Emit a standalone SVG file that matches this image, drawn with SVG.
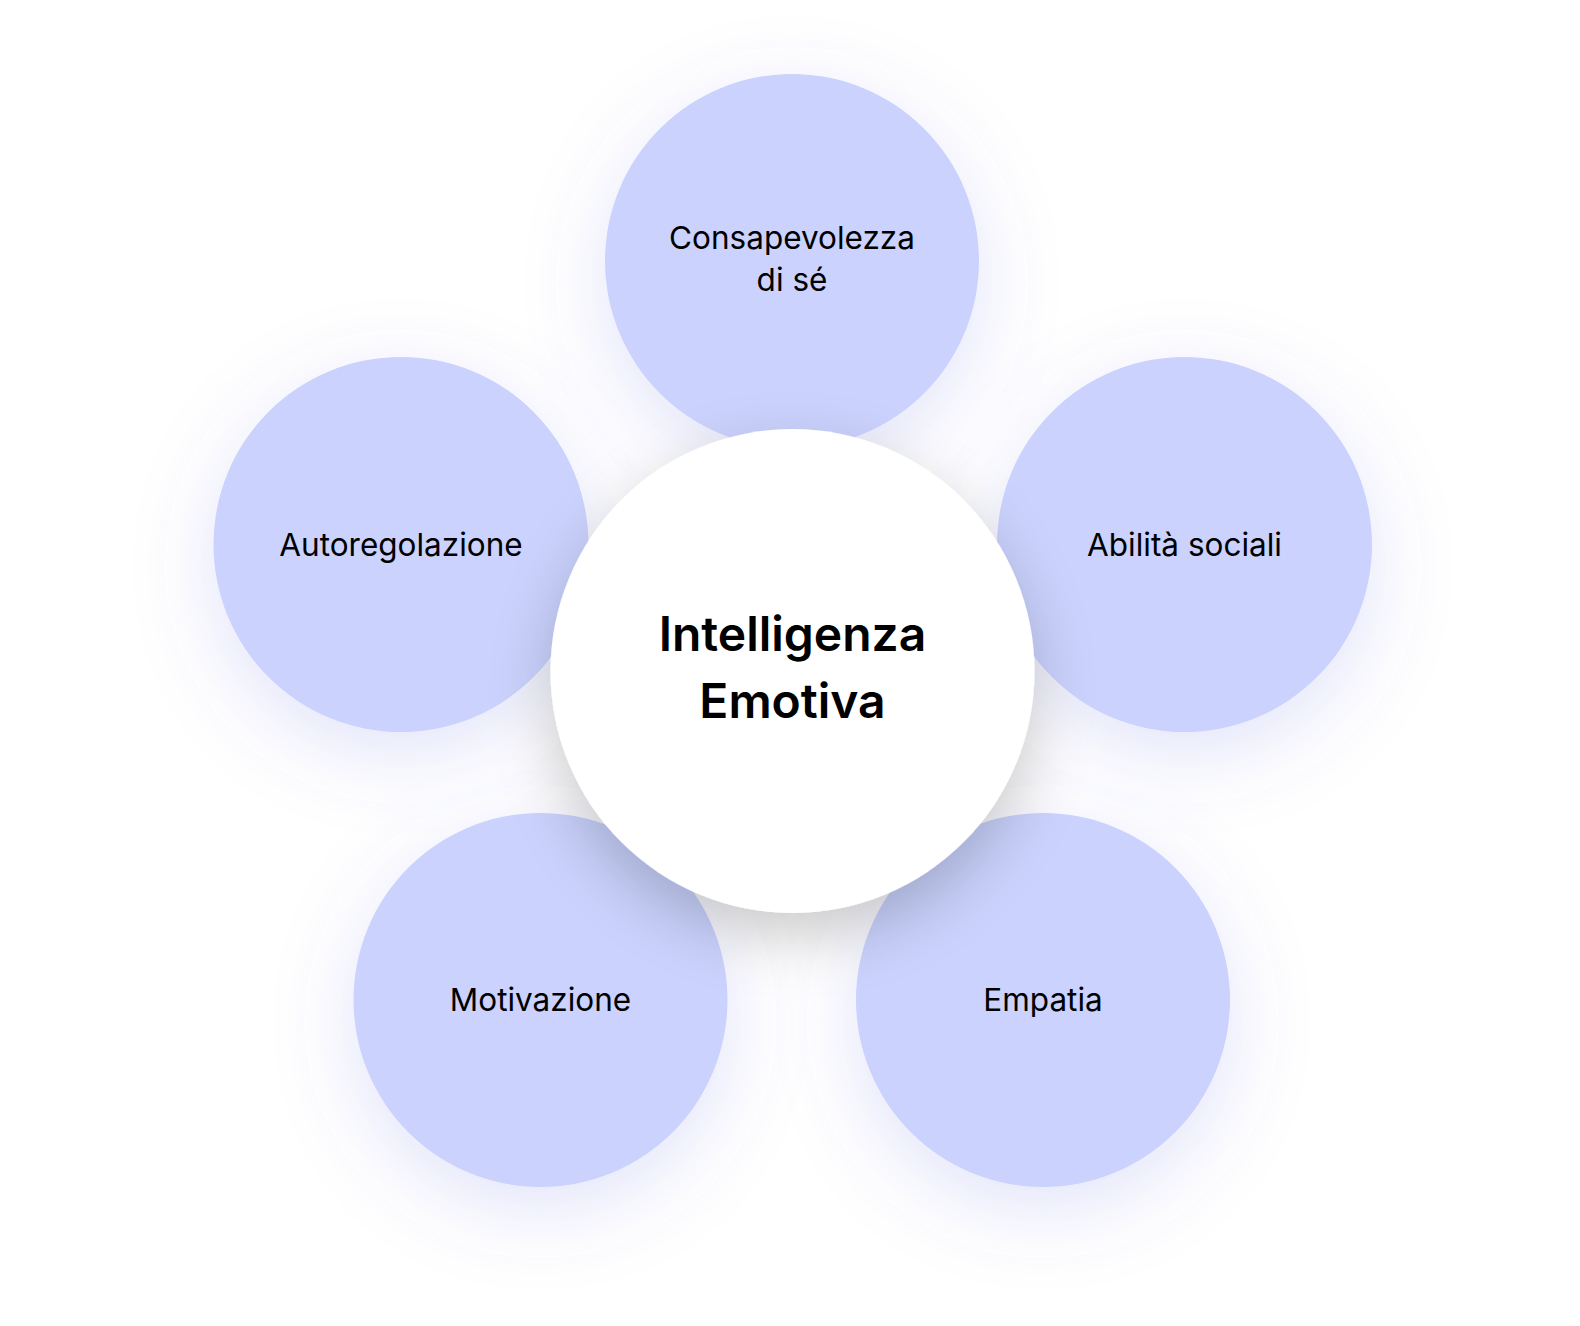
<svg xmlns="http://www.w3.org/2000/svg" width="1580" height="1326" viewBox="0 0 1580 1326">
  <defs>
    <filter id="glow" x="-60%" y="-60%" width="220%" height="220%">
      <feDropShadow dx="0" dy="22" stdDeviation="40" flood-color="#5a64e0" flood-opacity="0.18"/>
    </filter>
    <filter id="shadow" x="-50%" y="-50%" width="200%" height="200%">
      <feDropShadow dx="0" dy="24" stdDeviation="30" flood-color="#000000" flood-opacity="0.2"/>
    </filter>
  </defs>
  <style>
    .sat { fill: #cad2fd; filter: url(#glow); }
    .core { fill: #ffffff; filter: url(#shadow); }
    .lbl { font-family: Inter, "Noto Sans", "Liberation Sans", sans-serif; font-size: 31.5px; font-weight: 400; fill: #000000; text-anchor: middle; }
    .title { font-family: Inter, "Noto Sans", "Liberation Sans", sans-serif; font-size: 48px; font-weight: 600; fill: #000000; text-anchor: middle; }
  </style>
  <rect x="0" y="0" width="1580" height="1326" fill="#ffffff"/>
  <g id="connectors"/>
  <g id="node-consapevolezza">
    <circle class="sat" cx="792" cy="261" r="187"/>
    <text class="lbl" x="792" y="249">Consapevolezza</text>
    <text class="lbl" x="792" y="291">di sé</text>
  </g>
  <g id="node-autoregolazione">
    <circle class="sat" cx="401" cy="544.5" r="187.5"/>
    <text class="lbl" x="401" y="556">Autoregolazione</text>
  </g>
  <g id="node-abilita">
    <circle class="sat" cx="1184.5" cy="544.5" r="187.5"/>
    <text class="lbl" x="1184.5" y="556">Abilità sociali</text>
  </g>
  <g id="node-motivazione">
    <circle class="sat" cx="540.5" cy="1000" r="187"/>
    <text class="lbl" x="540.5" y="1011">Motivazione</text>
  </g>
  <g id="node-empatia">
    <circle class="sat" cx="1043" cy="1000" r="187"/>
    <text class="lbl" x="1043" y="1011">Empatia</text>
  </g>
  <g id="node-center">
    <circle class="core" cx="792.5" cy="671" r="242"/>
    <text class="title" x="792.5" y="651">Intelligenza</text>
    <text class="title" x="792.5" y="718">Emotiva</text>
  </g>
</svg>
